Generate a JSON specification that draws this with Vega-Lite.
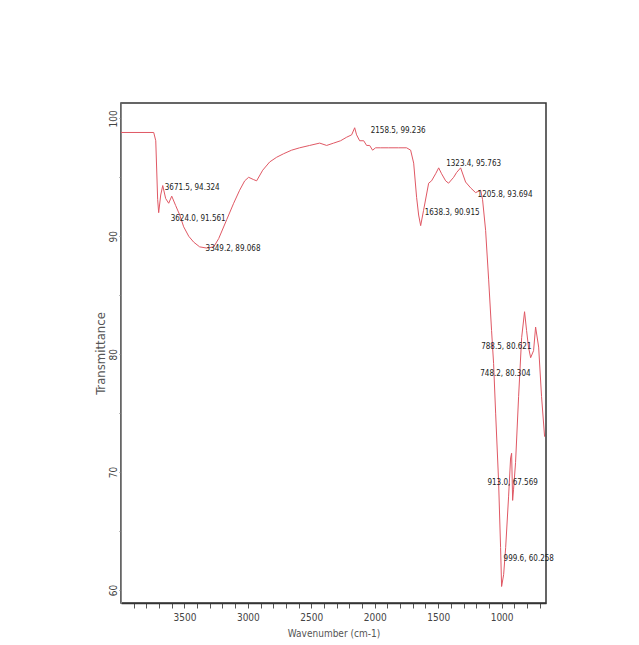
{
  "$schema": "https://vega.github.io/schema/vega-lite/v6.json",
  "width": 425,
  "height": 500,
  "autosize": {"type": "none"},
  "padding": {"left": 121, "top": 103, "right": 93, "bottom": 42},
  "background": "white",
  "config": {
    "view": {"stroke": "#333333", "strokeWidth": 1.5},
    "font": "DejaVu Sans Condensed"
  },
  "datasets": {
    "spectrum": [
      {"wn": 4000, "T": 98.8}, {"wn": 3742, "T": 98.8}, {"wn": 3726, "T": 98.1}, {"wn": 3711, "T": 93.1},
      {"wn": 3703, "T": 92.0}, {"wn": 3687, "T": 93.5}, {"wn": 3671, "T": 94.3}, {"wn": 3648, "T": 93.2},
      {"wn": 3624, "T": 92.8}, {"wn": 3600, "T": 93.4}, {"wn": 3569, "T": 92.6}, {"wn": 3537, "T": 91.8},
      {"wn": 3506, "T": 90.8}, {"wn": 3466, "T": 90.0}, {"wn": 3427, "T": 89.5}, {"wn": 3380, "T": 89.1},
      {"wn": 3325, "T": 89.0}, {"wn": 3269, "T": 89.1}, {"wn": 3230, "T": 89.8}, {"wn": 3167, "T": 91.4},
      {"wn": 3112, "T": 92.8}, {"wn": 3065, "T": 93.9}, {"wn": 3025, "T": 94.7}, {"wn": 2994, "T": 95.0},
      {"wn": 2954, "T": 94.8}, {"wn": 2931, "T": 94.7}, {"wn": 2883, "T": 95.6}, {"wn": 2828, "T": 96.3},
      {"wn": 2773, "T": 96.7}, {"wn": 2718, "T": 97.0}, {"wn": 2655, "T": 97.3}, {"wn": 2592, "T": 97.5},
      {"wn": 2513, "T": 97.7}, {"wn": 2434, "T": 97.9}, {"wn": 2379, "T": 97.7}, {"wn": 2324, "T": 97.9},
      {"wn": 2269, "T": 98.1}, {"wn": 2221, "T": 98.4}, {"wn": 2182, "T": 98.6}, {"wn": 2158, "T": 99.2},
      {"wn": 2143, "T": 98.6}, {"wn": 2119, "T": 98.1}, {"wn": 2087, "T": 98.1}, {"wn": 2064, "T": 97.7},
      {"wn": 2040, "T": 97.7}, {"wn": 2017, "T": 97.3}, {"wn": 1993, "T": 97.5}, {"wn": 1953, "T": 97.5},
      {"wn": 1890, "T": 97.5}, {"wn": 1812, "T": 97.5}, {"wn": 1749, "T": 97.5}, {"wn": 1717, "T": 97.3},
      {"wn": 1693, "T": 96.2}, {"wn": 1670, "T": 93.3}, {"wn": 1654, "T": 91.8}, {"wn": 1638, "T": 90.9},
      {"wn": 1615, "T": 92.2}, {"wn": 1575, "T": 94.5}, {"wn": 1552, "T": 94.7}, {"wn": 1520, "T": 95.3},
      {"wn": 1496, "T": 95.8}, {"wn": 1473, "T": 95.3}, {"wn": 1441, "T": 94.7}, {"wn": 1418, "T": 94.5},
      {"wn": 1378, "T": 95.0}, {"wn": 1355, "T": 95.4}, {"wn": 1323, "T": 95.8}, {"wn": 1284, "T": 94.6},
      {"wn": 1244, "T": 94.1}, {"wn": 1205, "T": 93.7}, {"wn": 1165, "T": 93.9}, {"wn": 1150, "T": 93.1},
      {"wn": 1126, "T": 90.5}, {"wn": 1102, "T": 86.3}, {"wn": 1079, "T": 82.0}, {"wn": 1063, "T": 79.2},
      {"wn": 1047, "T": 75.0}, {"wn": 1024, "T": 69.3}, {"wn": 1008, "T": 63.6}, {"wn": 1000, "T": 60.3},
      {"wn": 984, "T": 61.3}, {"wn": 968, "T": 63.6}, {"wn": 945, "T": 67.9}, {"wn": 929, "T": 71.2},
      {"wn": 921, "T": 71.6}, {"wn": 913, "T": 67.6}, {"wn": 906, "T": 68.5}, {"wn": 890, "T": 70.8},
      {"wn": 866, "T": 76.4}, {"wn": 842, "T": 81.4}, {"wn": 819, "T": 83.6}, {"wn": 803, "T": 82.0},
      {"wn": 788, "T": 80.6}, {"wn": 771, "T": 79.7}, {"wn": 748, "T": 80.3}, {"wn": 732, "T": 82.3},
      {"wn": 708, "T": 80.6}, {"wn": 685, "T": 76.4}, {"wn": 661, "T": 73.0}
    ],
    "peaks": [
      {"wn": 3671, "T": 94.3, "label": "3671.5, 94.324"},
      {"wn": 3624, "T": 91.6, "label": "3624.0, 91.561"},
      {"wn": 3349, "T": 89.1, "label": "3349.2, 89.068"},
      {"wn": 2158, "T": 99.2, "label": "2158.5, 99.236"},
      {"wn": 1638, "T": 90.9, "label": "1638.3, 90.915"},
      {"wn": 1323, "T": 95.8, "label": "1323.4, 95.763"},
      {"wn": 1205, "T": 93.7, "label": "1205.8, 93.694"},
      {"wn": 788, "T": 80.6, "label": "788.5, 80.621"},
      {"wn": 748, "T": 80.3, "label": "748.2, 80.304"},
      {"wn": 913, "T": 67.6, "label": "913.0, 67.569"},
      {"wn": 1000, "T": 60.3, "label": "999.6, 60.258"}
    ]
  },
  "layer": [
    {
      "data": {"name": "spectrum"},
      "mark": {"type": "line", "color": "#e05864", "strokeWidth": 1, "interpolate": "linear"},
      "encoding": {
        "x": {
          "field": "wn", "type": "quantitative",
          "scale": {"domain": [4000, 650], "nice": false, "zero": false},
          "axis": {
            "values": [700, 800, 900, 1000, 1100, 1200, 1300, 1400, 1500, 1600, 1700, 1800, 1900, 2000, 2100, 2200, 2300, 2400, 2500, 2600, 2700, 2800, 2900, 3000, 3100, 3200, 3300, 3400, 3500, 3600, 3700, 3800, 3900],
            "tickCount": 50,
            "labelExpr": "datum.value % 500 == 0 ? datum.value : ''",
            "title": "Wavenumber (cm-1)",
            "titleFontSize": 10, "titleFontWeight": "normal", "titleColor": "#555555", "titlePadding": 6,
            "labelFontSize": 10, "labelColor": "#444444", "labelPadding": 4,
            "tickSize": 5, "tickColor": "#555555", "domainColor": "#333333", "domainWidth": 1.5,
            "grid": false, "labelFlush": false, "labelOverlap": false
          }
        },
        "y": {
          "field": "T", "type": "quantitative",
          "scale": {"domain": [58.9, 101.3], "nice": false, "zero": false},
          "axis": {
            "values": [60, 65, 70, 75, 80, 85, 90, 95, 100],
            "tickCount": 20,
            "labelExpr": "datum.value % 10 == 0 ? datum.value : ''",
            "title": "Transmittance",
            "titleFontSize": 13, "titleFontWeight": "normal", "titleColor": "#555555", "titlePadding": 1,
            "labelAngle": -90, "labelAlign": "center", "labelBaseline": "bottom",
            "labelFontSize": 10, "labelColor": "#444444", "labelPadding": 1,
            "tickSize": 2, "tickColor": "#777777", "domainColor": "#888888",
            "grid": false, "labelOverlap": false
          }
        }
      }
    },
    {
      "data": {"name": "peaks"},
      "transform": [{"filter": {"field": "wn", "oneOf": [3671, 3624, 3349, 1205]}}],
      "mark": {"type": "text", "align": "left", "baseline": "middle", "dx": 2, "dy": 2, "fontSize": 8, "color": "#222222"},
      "encoding": {"x": {"field": "wn", "type": "quantitative"}, "y": {"field": "T", "type": "quantitative"}, "text": {"field": "label"}}
    },
    {
      "data": {"name": "peaks"},
      "transform": [{"filter": {"field": "wn", "equal": 2158}}],
      "mark": {"type": "text", "align": "left", "baseline": "middle", "dx": 16, "dy": 3, "fontSize": 8, "color": "#222222"},
      "encoding": {"x": {"field": "wn", "type": "quantitative"}, "y": {"field": "T", "type": "quantitative"}, "text": {"field": "label"}}
    },
    {
      "data": {"name": "peaks"},
      "transform": [{"filter": {"field": "wn", "equal": 1638}}],
      "mark": {"type": "text", "align": "left", "baseline": "middle", "dx": 4, "dy": -13, "fontSize": 8, "color": "#222222"},
      "encoding": {"x": {"field": "wn", "type": "quantitative"}, "y": {"field": "T", "type": "quantitative"}, "text": {"field": "label"}}
    },
    {
      "data": {"name": "peaks"},
      "transform": [{"filter": {"field": "wn", "equal": 1323}}],
      "mark": {"type": "text", "align": "center", "baseline": "middle", "dx": 13, "dy": -4, "fontSize": 8, "color": "#222222"},
      "encoding": {"x": {"field": "wn", "type": "quantitative"}, "y": {"field": "T", "type": "quantitative"}, "text": {"field": "label"}}
    },
    {
      "data": {"name": "peaks"},
      "transform": [{"filter": {"field": "wn", "equal": 788}}],
      "mark": {"type": "text", "align": "right", "baseline": "middle", "dx": 3, "dy": 0, "fontSize": 8, "color": "#222222"},
      "encoding": {"x": {"field": "wn", "type": "quantitative"}, "y": {"field": "T", "type": "quantitative"}, "text": {"field": "label"}}
    },
    {
      "data": {"name": "peaks"},
      "transform": [{"filter": {"field": "wn", "equal": 748}}],
      "mark": {"type": "text", "align": "right", "baseline": "middle", "dx": -3, "dy": 23, "fontSize": 8, "color": "#222222"},
      "encoding": {"x": {"field": "wn", "type": "quantitative"}, "y": {"field": "T", "type": "quantitative"}, "text": {"field": "label"}}
    },
    {
      "data": {"name": "peaks"},
      "transform": [{"filter": {"field": "wn", "equal": 913}}],
      "mark": {"type": "text", "align": "center", "baseline": "middle", "dx": 0, "dy": -17, "fontSize": 8, "color": "#222222"},
      "encoding": {"x": {"field": "wn", "type": "quantitative"}, "y": {"field": "T", "type": "quantitative"}, "text": {"field": "label"}}
    },
    {
      "data": {"name": "peaks"},
      "transform": [{"filter": {"field": "wn", "equal": 1000}}],
      "mark": {"type": "text", "align": "left", "baseline": "middle", "dx": 2, "dy": -27, "fontSize": 8, "color": "#222222"},
      "encoding": {"x": {"field": "wn", "type": "quantitative"}, "y": {"field": "T", "type": "quantitative"}, "text": {"field": "label"}}
    }
  ]
}
